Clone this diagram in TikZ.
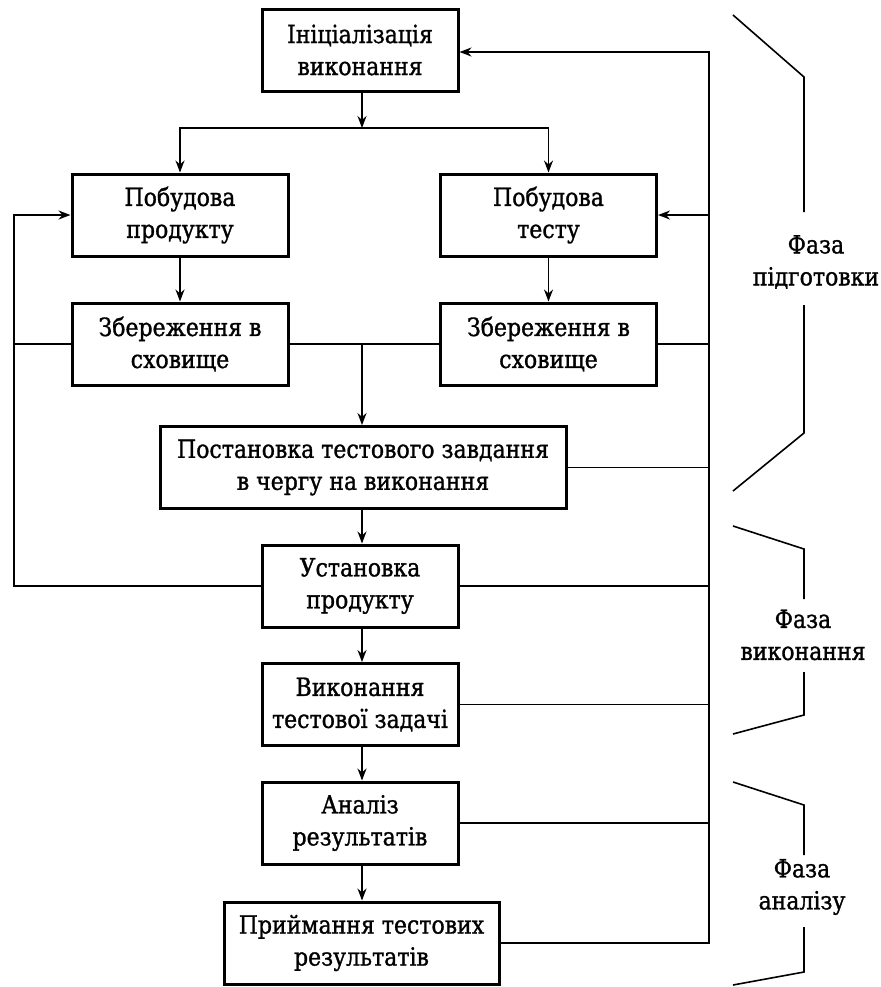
\documentclass[tikz,border=0pt]{standalone}
\usepackage{fontspec}
\setmainfont[FakeStretch=0.88, FakeBold=1.2]{DejaVu Serif}
\usetikzlibrary{positioning,arrows.meta}

\begin{document}
\begin{tikzpicture}[x=0.5pt, y=-0.5pt, >={Stealth[length=6pt,width=4.5pt]}, line width=0.8pt,
  box/.style={draw, line width=1.5pt, align=center, inner sep=0pt, minimum height=41pt,
    font=\fontsize{12.5}{16}\selectfont},
  phase/.style={align=center, inner sep=0pt, font=\fontsize{12.5}{16}\selectfont}]
  \useasboundingbox (0,0) rectangle (880,987);

  \node[box, minimum width=98pt] (init) at (360,50) {Ініціалізація\\виконання};
  \node[box, minimum width=108pt] (prodb) at (180,215) {Побудова\\продукту};
  \node[box, minimum width=108pt] (testb) at (548.5,215) {Побудова\\тесту};
  \node[box, minimum width=108pt] (prods) at (180,344) {Збереження в\\сховище};
  \node[box, minimum width=108pt] (tests) at (548.5,344) {Збереження в\\сховище};
  \node[box, minimum width=203pt] (queue) at (363,467.5) {Постановка тестового завдання\\в чергу на виконання};
  \node[box, minimum width=98pt] (inst) at (360,586) {Установка\\продукту};
  \node[box, minimum width=98pt] (exec) at (360,704.5) {Виконання\\тестової задачі};
  \node[box, minimum width=98pt] (anal) at (360,823) {Аналіз\\результатів};
  \node[box, minimum width=137.5pt] (accept) at (361.5,943) {Приймання тестових\\результатів};

  \node[phase] (prep) at (816,262) {Фаза\\підготовки};
  \node[phase] (run) at (803,635) {Фаза\\виконання};
  \node[phase] (check) at (802,887) {Фаза\\аналізу};

  \coordinate (split) at (362,128);
  \coordinate (merge) at (362,344);
  \coordinate (rbus) at (709,52);
  \coordinate (lbus) at (14,400);

  % forward flow
  \draw[->] (init.south -| split) -- (split);
  \draw[->] (split) -| (prodb);
  \draw[->] (split) -| (testb);
  \draw[->] (prodb) -- (prods);
  \draw[->] (testb) -- (tests);
  \draw (prods) -- (tests);
  \draw[->] (merge) -- (queue.north -| merge);
  \draw[->] (queue.south -| merge) -- (inst.north -| merge);
  \draw[->] (inst.south -| merge) -- (exec.north -| merge);
  \draw[->] (exec.south -| merge) -- (anal.north -| merge);
  \draw[->] (anal.south -| merge) -- (accept.north -| merge);

  % feedback to the right
  \draw[->] (accept.east) -| (rbus) -- (init.east |- rbus);
  \draw[->] (testb.east -| rbus) -- (testb.east);
  \draw (tests.east) -- (tests.east -| rbus);
  \draw (queue.east) -- (queue.east -| rbus);
  \draw (inst.east) -- (inst.east -| rbus);
  \draw (exec.east) -- (exec.east -| rbus);
  \draw (anal.east) -- (anal.east -| rbus);

  % feedback to the left
  \draw[->] (inst) -| (lbus) |- (prodb);
  \draw (prods.west) -- (prods.west -| lbus);

  % phase brackets
  \draw (733,15) -- (804,77) -- (804,212);
  \draw (804,305) -- (804,433) -- (733,491);
  \draw (733,526) -- (804,549) -- (804,599);
  \draw (804,672) -- (804,715) -- (733,734);
  \draw (733,782) -- (804,805) -- (804,855);
  \draw (804,927) -- (804,972) -- (733,985);
\end{tikzpicture}
\end{document}
